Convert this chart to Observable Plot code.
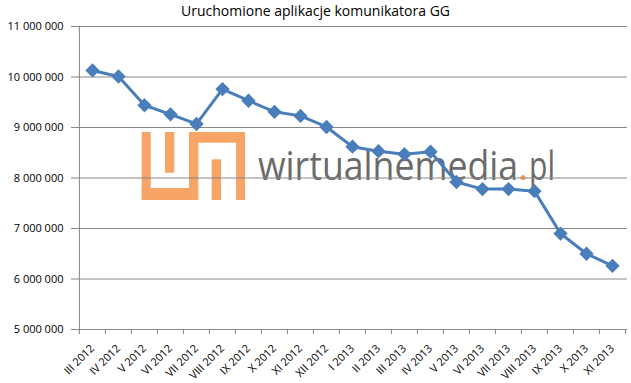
<!DOCTYPE html>
<html><head><meta charset="utf-8">
<script src="https://cdn.jsdelivr.net/npm/d3@7"></script>
<script src="https://cdn.jsdelivr.net/npm/@observablehq/plot@0.6"></script>
<style>
body{margin:0;background:#fff;font-family:"Open Sans",sans-serif}
#wrap{position:relative;width:631px;height:383px;overflow:hidden}
#title{position:absolute;top:2px;left:0;width:631px;text-align:center;font-size:14px;line-height:18px;color:#000;z-index:2}
#wrap svg{position:absolute;top:0;left:0;overflow:visible}
</style></head><body>
<div id="wrap"><div id="title"></div></div>
<script>
const chartTitle = "Uruchomione aplikacje komunikatora GG";
const months = ["III 2012","IV 2012","V 2012","VI 2012","VII 2012","VIII 2012","IX 2012","X 2012","XI 2012","XII 2012","I 2013","II 2013","III 2013","IV 2013","V 2013","VI 2013","VII 2013","VIII 2013","IX 2013","X 2013","XI 2013"];
const users = [10130000,10010000,9440000,9260000,9070000,9760000,9530000,9310000,9230000,9010000,8620000,8530000,8470000,8520000,7920000,7780000,7780000,7740000,6900000,6500000,6260000];
const yTicks = [5000000,6000000,7000000,8000000,9000000,10000000,11000000];
const watermarkName = "wirtualnemedia";
const watermarkDomain = "pl";

document.getElementById("title").textContent = chartTitle;
const data = months.map((m, i) => ({month: m, value: users[i]}));

const W = 631, H = 383, mL = 77, mR = 4, mT = 26, mB = 54;
const step = (W - mL - mR) / months.length;
const fmt = v => d3.format(",")(v).replace(/,/g, " ");
const gray = "#868686";
const blue = "#4A7EBB";

const plot = Plot.plot({
  width: W, height: H,
  marginLeft: mL, marginRight: mR, marginTop: mT, marginBottom: mB,
  style: {fontFamily: "Open Sans, sans-serif", fontSize: "11px", color: "#000", background: "transparent"},
  x: {type: "point", domain: months, padding: 0.5, label: null},
  y: {domain: [5000000, 11000000], label: null},
  marks: [
    Plot.gridY(yTicks, {stroke: gray, strokeOpacity: 1, strokeWidth: 1}),
    Plot.ruleX([months[0]], {x: d => d, y1: 5000000, y2: 11000000, dx: -step / 2, stroke: gray}),
    Plot.ruleX(months, {x: d => d, y1: 5000000, y2: 5000000, insetBottom: -5, dx: -step / 2, stroke: gray}),
    Plot.ruleX([months[months.length - 1]], {x: d => d, y1: 5000000, y2: 5000000, insetBottom: -5, dx: step / 2, stroke: gray}),
    Plot.axisY(yTicks, {tickSize: 6, tickPadding: 8, tickFormat: fmt, stroke: gray, fill: "#000", fontSize: 11}),
    Plot.axisX(months, {tickSize: 0, tickRotate: -45, tickPadding: 16, dy: 1, fill: "#000", fontSize: 11}),
    Plot.line(data, {x: "month", y: "value", stroke: blue, strokeWidth: 3, strokeLinejoin: "round"}),
    Plot.dot(data, {x: "month", y: "value", symbol: "diamond2", r: 5.5, fill: blue, stroke: blue})
  ]
});
document.getElementById("wrap").appendChild(plot);

// watermark (decoration) behind gridlines
const ns = "http://www.w3.org/2000/svg";
const g = document.createElementNS(ns, "g");
const orange = "#F7A466";
[[141.7,132,9,68],[141.7,188,55,12],[165,132,9.3,40.7],[189,132,9.3,68],[189,132,56,10.7],[236,132,9,68],[211.7,159.3,9.3,40.7]].forEach(([x,y,w,h]) => {
  const r = document.createElementNS(ns, "rect");
  r.setAttribute("x", x); r.setAttribute("y", y); r.setAttribute("width", w); r.setAttribute("height", h);
  r.setAttribute("fill", orange);
  g.appendChild(r);
});
function wmText(str, x, len) {
  const t = document.createElementNS(ns, "text");
  t.setAttribute("x", x); t.setAttribute("y", 180);
  t.setAttribute("text-anchor", "start");
  t.setAttribute("font-size", 41); t.setAttribute("font-family", "Open Sans, sans-serif");
  t.setAttribute("textLength", len); t.setAttribute("lengthAdjust", "spacingAndGlyphs");
  t.setAttribute("fill", "#6a6a6a");
  t.textContent = str;
  g.appendChild(t);
}
wmText(watermarkName, 258, 260);
wmText(watermarkDomain, 529, 26);
const c = document.createElementNS(ns, "circle");
c.setAttribute("cx", 523); c.setAttribute("cy", 177.5); c.setAttribute("r", 2.6);
c.setAttribute("fill", orange);
g.appendChild(c);
const firstG = plot.querySelector("g");
plot.insertBefore(g, firstG);
</script>
</body></html>
